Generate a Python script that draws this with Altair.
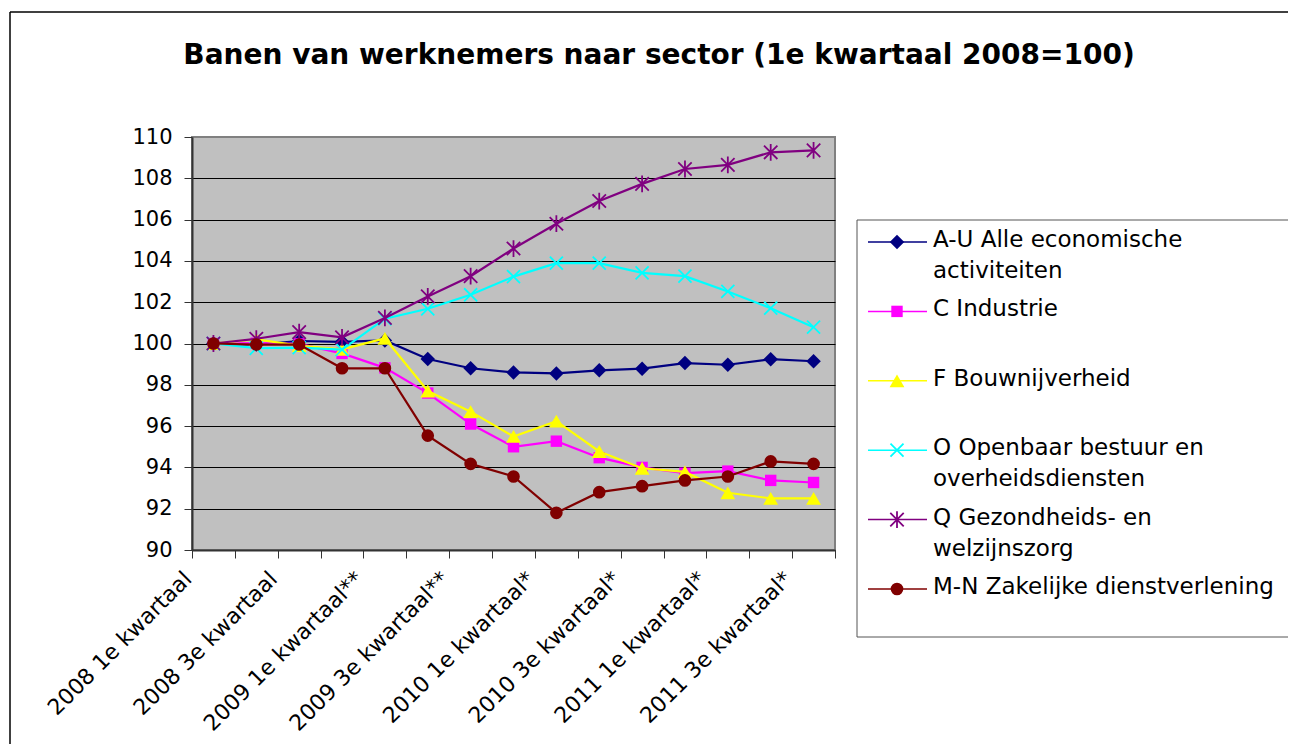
import json
import altair as alt
import pandas as pd

FONT = "DejaVu Sans"

title_text = "Banen van werknemers naar sector (1e kwartaal 2008=100)"

quarters = [
    "2008 1e kwartaal", "2008 2e kwartaal", "2008 3e kwartaal", "2008 4e kwartaal",
    "2009 1e kwartaal**", "2009 2e kwartaal**", "2009 3e kwartaal**", "2009 4e kwartaal**",
    "2010 1e kwartaal*", "2010 2e kwartaal*", "2010 3e kwartaal*", "2010 4e kwartaal*",
    "2011 1e kwartaal*", "2011 2e kwartaal*", "2011 3e kwartaal*",
]
shown_labels = [
    "2008 1e kwartaal", "2008 3e kwartaal", "2009 1e kwartaal**", "2009 3e kwartaal**",
    "2010 1e kwartaal*", "2010 3e kwartaal*", "2011 1e kwartaal*", "2011 3e kwartaal*",
]
y_ticks = [90, 92, 94, 96, 98, 100, 102, 104, 106, 108, 110]

series_names = [
    "A-U Alle economische activiteiten",
    "C Industrie",
    "F Bouwnijverheid",
    "O Openbaar bestuur en overheidsdiensten",
    "Q Gezondheids- en welzijnszorg",
    "M-N Zakelijke dienstverlening",
]
legend_line1 = ["A-U Alle economische", "C Industrie", "F Bouwnijverheid",
                "O Openbaar bestuur en", "Q Gezondheids- en", "M-N Zakelijke dienstverlening"]
legend_line2 = ["activiteiten", "", "", "overheidsdiensten", "welzijnszorg", ""]
legend_slot = [0, 1, 2, 3, 4, 5]
colors = ["#000080", "#FF00FF", "#FFFF00", "#00FFFF", "#800080", "#800000"]

au_values = [100.0, 99.95, 100.12, 100.08, 100.15, 99.25, 98.8, 98.6, 98.55, 98.7, 98.78, 99.05, 98.97, 99.24, 99.14]
c_values = [100.0, 100.02, 99.98, 99.52, 98.82, 97.6, 96.1, 95.0, 95.27, 94.47, 94.0, 93.72, 93.82, 93.37, 93.27]
f_values = [100.0, 100.2, 99.9, 99.72, 100.25, 97.7, 96.7, 95.5, 96.24, 94.77, 93.96, 93.78, 92.77, 92.5, 92.5]
o_values = [100.0, 99.77, 99.8, 99.7, 101.2, 101.68, 102.36, 103.24, 103.89, 103.89, 103.42, 103.26, 102.52, 101.71, 100.79]
q_values = [100.0, 100.23, 100.55, 100.3, 101.24, 102.28, 103.26, 104.6, 105.8, 106.9, 107.73, 108.45, 108.65, 109.26, 109.35]
mn_values = [100.0, 99.95, 99.95, 98.8, 98.8, 95.54, 94.17, 93.56, 91.8, 92.8, 93.09, 93.37, 93.56, 94.29, 94.17]

all_values = [au_values, c_values, f_values, o_values, q_values, mn_values]

X_PATH = "M-1,-1L1,1M-1,1L1,-1"
STAR_PATH = "M-1,-1L1,1M-1,1L1,-1M0,-1.25L0,1.25"
marker_styles = [
    dict(shape="diamond", filled=True, size=210),
    dict(shape="square", filled=True, size=130),
    dict(shape="triangle-up", filled=True, size=220),
    dict(shape=X_PATH, filled=False, size=170, strokeWidth=1.8),
    dict(shape=STAR_PATH, filled=False, size=180, strokeWidth=1.8),
    dict(shape="circle", filled=True, size=160),
]

rows = []
for name, vals in zip(series_names, all_values):
    for q, v in zip(quarters, vals):
        rows.append({"quarter": q, "series": name, "value": v})
df = pd.DataFrame(rows)

label_expr = "indexof(" + json.dumps(shown_labels) + ", datum.value) >= 0 ? datum.label : ''"

x_enc = alt.X(
    "quarter:N",
    bandPosition=0.5,
    scale=alt.Scale(type="band", domain=quarters, paddingInner=0, paddingOuter=0),
    axis=alt.Axis(
        title=None, tickBand="extent", labelExpr=label_expr, labelAngle=315,
        labelAlign="right", labelBaseline="top", labelOffset=-33, labelPadding=10,
        labelLimit=400, labelOverlap=False, labelFont=FONT, labelFontSize=22,
        labelColor="black", tickSize=8, tickColor="#333333", tickWidth=1,
        domainColor="#333333", domainWidth=2, grid=False,
    ),
)
y_enc = alt.Y(
    "value:Q",
    scale=alt.Scale(domain=[90, 110], nice=False, zero=False),
    axis=alt.Axis(
        title=None, values=y_ticks, format="d", labelFont=FONT, labelFontSize=21,
        labelColor="black", tickSize=8, tickColor="#333333", labelPadding=12,
        domainColor="#333333", domainWidth=2,
        gridColor={"condition": {"test": "datum.value >= 110", "value": "#808080"}, "value": "#000000"},
        gridWidth=1,
    ),
)

base = alt.Chart(df)
series_layers = []
for name, col, st in zip(series_names, colors, marker_styles):
    sub = base.transform_filter(alt.datum.series == name)
    series_layers.append(
        sub.mark_line(color=col, strokeWidth=2.2).encode(x=x_enc, y=y_enc)
    )
    series_layers.append(
        sub.mark_point(color=col, opacity=1, **st).encode(x=x_enc, y=y_enc)
    )
main = alt.layer(*series_layers)

# legend
legend_df = pd.DataFrame({"series": series_names, "slot": legend_slot,
                          "line1": legend_line1, "line2": legend_line2})
leg_base = alt.Chart(legend_df)
y_leg = alt.Y("slot:Q", scale=alt.Scale(domain=[0, 5], range=[105, 452], nice=False, zero=False), axis=None)
leg_layers = []
for name, col, st in zip(series_names, colors, marker_styles):
    sub = leg_base.transform_filter(alt.datum.series == name)
    leg_layers.append(
        sub.mark_rule(strokeWidth=1.5, color=col).encode(y=y_leg, x=alt.value(676), x2=alt.value(735))
    )
    leg_layers.append(
        sub.mark_point(color=col, opacity=1, **st).encode(y=y_leg, x=alt.value(705))
    )
leg_layers.append(
    leg_base.mark_text(align="left", baseline="alphabetic", dy=5, font=FONT, fontSize=23, color="black")
    .encode(y=y_leg, x=alt.value(741), text="line1:N")
)
leg_layers.append(
    leg_base.mark_text(align="left", baseline="alphabetic", dy=36, font=FONT, fontSize=23, color="black")
    .encode(y=y_leg, x=alt.value(741), text="line2:N")
)
legend = alt.layer(*leg_layers)

# decoration: outer frame, legend box, title
one = alt.Chart(pd.DataFrame({"t": [title_text]}))
deco = alt.layer(
    one.mark_rule(color="black", strokeWidth=1.5).encode(x=alt.value(-182), y=alt.value(-125), y2=alt.value(607)),
    one.mark_rule(color="black", strokeWidth=1.5).encode(x=alt.value(-182), x2=alt.value(1096), y=alt.value(-125)),
    one.mark_rule(color="#555555", strokeWidth=1).encode(x=alt.value(665), x2=alt.value(1096), y=alt.value(83)),
    one.mark_rule(color="#555555", strokeWidth=1).encode(x=alt.value(665), x2=alt.value(1096), y=alt.value(500)),
    one.mark_rule(color="#555555", strokeWidth=1).encode(x=alt.value(665), y=alt.value(83), y2=alt.value(500)),
    one.mark_text(font=FONT, fontSize=28, fontWeight="bold", align="center", baseline="alphabetic", color="black")
    .encode(x=alt.value(467), y=alt.value(-73), text="t:N"),
)

chart = (
    alt.layer(main, legend, deco)
    .resolve_scale(y="independent")
    .properties(
        width=643, height=413,
        autosize=alt.AutoSizeParams(type="none"),
        padding={"left": 184, "top": 129, "right": 453, "bottom": 194},
        background="white",
    )
    .configure_view(fill="#C0C0C0", stroke="#808080", strokeWidth=2)
)

chart.save("out.html", embed_options={"renderer": "svg", "actions": False})
